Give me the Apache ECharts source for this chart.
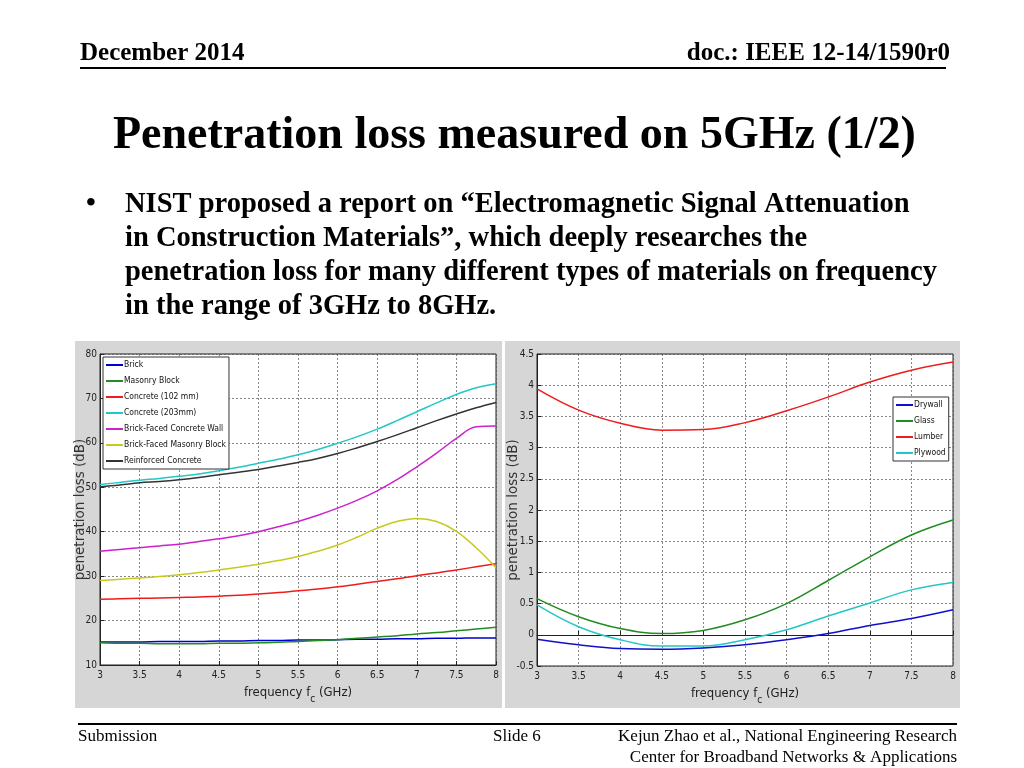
<!DOCTYPE html>
<html><head><meta charset="utf-8">
<script src="https://cdn.jsdelivr.net/npm/echarts@6/dist/echarts.min.js"></script>
<style>html,body{margin:0;padding:0;background:#fff}#c{width:1024px;height:768px}</style>
</head><body><div id="c"></div>
<script>
// ---- data: left chart (0.25 GHz steps) ----
const freqLeft = [3,3.25,3.5,3.75,4,4.25,4.5,4.75,5,5.25,5.5,5.75,6,6.25,6.5,6.75,7,7.25,7.5,7.75,8];
const brick      = [15.2,15.2,15.2,15.3,15.3,15.3,15.4,15.4,15.5,15.5,15.6,15.6,15.7,15.8,15.8,15.9,15.9,16.0,16.0,16.1,16.1];
const masonry    = [15.0,14.9,14.9,14.8,14.8,14.8,14.9,14.9,15.0,15.1,15.3,15.5,15.7,16.0,16.3,16.6,17.0,17.3,17.7,18.1,18.5];
const conc102    = [24.8,24.9,25.0,25.1,25.2,25.3,25.5,25.7,26.0,26.3,26.7,27.1,27.6,28.2,28.8,29.4,30.1,30.7,31.4,32.1,32.8];
const conc203    = [50.6,51.1,51.6,52.0,52.5,53.0,53.7,54.5,55.4,56.3,57.3,58.5,59.9,61.4,63.1,65.0,67.0,69.0,70.9,72.4,73.3];
const bfWall     = [35.6,36.0,36.4,36.8,37.2,37.8,38.4,39.1,40.0,41.1,42.3,43.7,45.3,47.1,49.2,51.7,54.6,57.7,61.0,63.6,63.8];
const bfMasonry  = [29.0,29.3,29.6,29.9,30.3,30.8,31.4,32.0,32.7,33.5,34.4,35.6,37.0,38.8,40.8,42.3,43.0,42.3,40.1,36.4,31.9];
const reinforced = [50.1,50.5,51.0,51.3,51.7,52.2,52.8,53.4,54.0,54.8,55.6,56.5,57.6,58.9,60.3,61.8,63.4,65.0,66.5,67.9,69.1];
const leftNames = ['Brick','Masonry Block','Concrete (102 mm)','Concrete (203mm)','Brick-Faced Concrete Wall','Brick-Faced Masonry Block','Reinforced Concrete'];
const leftColors = ['#0000cc','#228b22','#ee1c1c','#22c7c7','#cc22cc','#c8c81e','#333333'];

// ---- data: right chart (0.5 GHz steps) ----
const freqRight = [3,3.5,4,4.5,5,5.5,6,6.5,7,7.5,8];
const drywall = [-0.07,-0.16,-0.22,-0.23,-0.21,-0.16,-0.08,0.02,0.15,0.26,0.40];
const glass   = [0.58,0.29,0.10,0.02,0.07,0.24,0.50,0.87,1.25,1.60,1.84];
const lumber  = [3.94,3.60,3.39,3.28,3.29,3.40,3.59,3.81,4.05,4.24,4.37];
const plywood = [0.48,0.13,-0.08,-0.18,-0.18,-0.08,0.08,0.30,0.51,0.72,0.84];
const rightNames = ['Drywall','Glass','Lumber','Plywood'];
const rightColors = ['#1010cc','#228b22','#ee1c1c','#22c7c7'];

const COND = '"DejaVu Sans Condensed","Liberation Sans",sans-serif';
const SANS = '"DejaVu Sans","Liberation Sans",sans-serif';
const SERIF = '"Liberation Serif","Times New Roman",serif';

function pairs(xs, ys){ return xs.map((x,i)=>[x,ys[i]]); }

const leftData = [brick,masonry,conc102,conc203,bfWall,bfMasonry,reinforced];
const rightData = [drywall,glass,lumber,plywood];

const chart = echarts.init(document.getElementById('c'), null, {renderer:'canvas'});

function xAxisDef(gi){
  return {
    type:'value', gridIndex:gi, min:3, max:8, interval:0.5,
    name:'{a|frequency f}{s|c}{a| (GHz)}', nameLocation:'middle', nameGap:17, nameMoveOverlap:false,
    nameTextStyle:{rich:{a:{fontFamily:COND,fontSize:13,color:'#222'},s:{fontFamily:COND,fontSize:10,color:'#222',padding:[12,0,0,0]}}},
    axisLine:{show:true,lineStyle:{color:'#222',width:1}},
    axisTick:{show:true,inside:true,length:4,lineStyle:{color:'#222'}},
    axisLabel:{fontFamily:COND,fontSize:10,color:'#222',margin:5},
    splitLine:{show:true,lineStyle:{color:'#555',type:[2,2],width:0.7}}
  };
}
function yAxisDef(gi,min,max,interval,gap){
  return {
    type:'value', gridIndex:gi, min:min, max:max, interval:interval,
    name:'penetration loss (dB)', nameLocation:'middle', nameGap:gap, nameMoveOverlap:false,
    nameTextStyle:{fontFamily:SANS,fontSize:13.5,color:'#333'},
    axisLine:{show:true,lineStyle:{color:'#222',width:1}},
    axisTick:{show:true,inside:true,length:4,lineStyle:{color:'#222'}},
    axisLabel:{fontFamily:COND,fontSize:10,color:'#222',margin:3},
    splitLine:{show:true,lineStyle:{color:'#555',type:[2,2],width:0.7}}
  };
}

const series = [];
leftNames.forEach((n,i)=>series.push({
  name:n, type:'line', xAxisIndex:0, yAxisIndex:0, data:pairs(freqLeft,leftData[i]),
  showSymbol:false, symbol:'none', smooth:0.4, lineStyle:{color:leftColors[i],width:1.5}, itemStyle:{color:leftColors[i]}, z:3
}));
rightNames.forEach((n,i)=>series.push({
  name:n, type:'line', xAxisIndex:1, yAxisIndex:1, data:pairs(freqRight,rightData[i]),
  showSymbol:false, symbol:'none', smooth:0.4, lineStyle:{color:rightColors[i],width:1.5}, itemStyle:{color:rightColors[i]}, z:3
}));

function legendDef(names,left,top,gap){
  return {
    data:names, orient:'vertical', left:left, top:top,
    backgroundColor:'#fff', borderColor:'#333', borderWidth:1,
    padding:[3,3,3,3], itemGap:gap, itemWidth:17, itemHeight:2, icon:'rect',
    textStyle:{fontFamily:COND,fontSize:8.5,color:'#111',padding:[0,0,0,-4],lineHeight:10}
  };
}

const option = {
  animation:false,
  backgroundColor:'#fff',
  graphic:[
    {type:'rect',shape:{x:75,y:341,width:427,height:367},style:{fill:'#d6d6d6'},z:-10,silent:true},
    {type:'rect',shape:{x:505,y:341,width:455,height:367},style:{fill:'#d6d6d6'},z:-10,silent:true},
    {type:'text',x:80,y:41,style:{text:'December 2014',font:'bold 25px '+SERIF,fill:'#000'}},
    {type:'text',x:950,y:41,style:{text:'doc.: IEEE 12-14/1590r0',font:'bold 25px '+SERIF,fill:'#000',align:'right'}},
    {type:'line',shape:{x1:80,y1:68,x2:946,y2:68},style:{stroke:'#000',lineWidth:2}},
    {type:'text',x:113,y:113,style:{text:'Penetration loss measured on 5GHz (1/2)',font:'bold 46px '+SERIF,fill:'#000'}},
    {type:'text',x:86,y:190,style:{text:'•',font:'bold 28px '+SERIF,fill:'#000'}},
    {type:'text',x:125,y:190,style:{text:'NIST proposed a report on “Electromagnetic Signal Attenuation',font:'bold 28.5px '+SERIF,fill:'#000'}},
    {type:'text',x:125,y:224,style:{text:'in Construction Materials”, which deeply researches the',font:'bold 28.5px '+SERIF,fill:'#000'}},
    {type:'text',x:125,y:258,style:{text:'penetration loss for many different types of materials on frequency',font:'bold 28.5px '+SERIF,fill:'#000'}},
    {type:'text',x:125,y:292,style:{text:'in the range of 3GHz to 8GHz.',font:'bold 28.5px '+SERIF,fill:'#000'}},
    {type:'line',shape:{x1:78,y1:724,x2:957,y2:724},style:{stroke:'#000',lineWidth:2}},
    {type:'text',x:78,y:728,style:{text:'Submission',font:'17px '+SERIF,fill:'#000'}},
    {type:'text',x:493,y:728,style:{text:'Slide 6',font:'17px '+SERIF,fill:'#000'}},
    {type:'text',x:957,y:728,style:{text:'Kejun Zhao et al., National Engineering Research',font:'17px '+SERIF,fill:'#000',align:'right'}},
    {type:'text',x:957,y:749,style:{text:'Center for Broadband Networks & Applications',font:'17px '+SERIF,fill:'#000',align:'right'}}
  ],
  grid:[
    {left:100,top:354,width:396,height:311,show:true,backgroundColor:'#fff',borderColor:'#222',borderWidth:1,containLabel:false},
    {left:537,top:354,width:416,height:312,show:true,backgroundColor:'#fff',borderColor:'#222',borderWidth:1,containLabel:false}
  ],
  xAxis:[xAxisDef(0),xAxisDef(1)],
  yAxis:[yAxisDef(0,10,80,10,12.5),yAxisDef(1,-0.5,4.5,0.5,16.5)],
  legend:[legendDef(leftNames,103,357,6),legendDef(rightNames,893,397,6)],
  series:series
};
chart.setOption(option);
</script></body></html>
